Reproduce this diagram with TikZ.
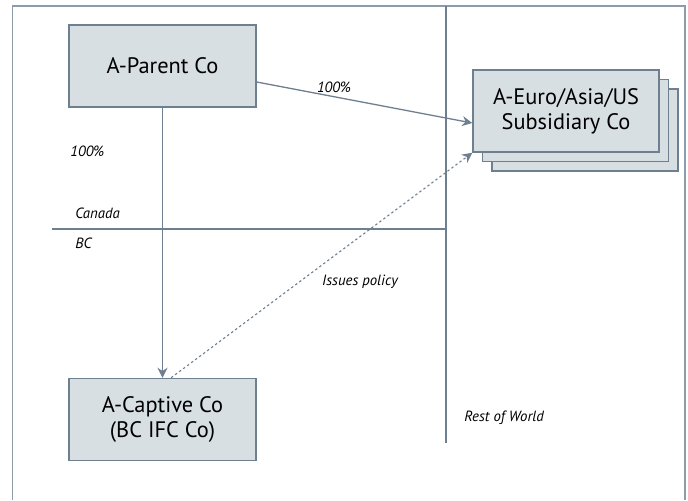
\documentclass[tikz,border=0pt]{standalone}
\usepackage{fontspec}
\setmainfont{PT Sans}
\definecolor{slateline}{RGB}{110,127,144}
\definecolor{frameline}{RGB}{140,156,170}
\definecolor{boxfill}{RGB}{216,223,227}
\usetikzlibrary{arrows.meta,positioning,shadows}

\begin{document}
\begin{tikzpicture}[x=0.5pt,y=-0.5pt,
  every node/.style={font=\fontsize{11.2}{12.5}\selectfont,align=center},
  entity/.style={draw=slateline,line width=0.75pt,fill=boxfill,minimum width=93.5pt,minimum height=41pt,inner sep=0pt},
  link/.style={slateline,line width=0.65pt,-{Stealth[length=5pt,width=5pt,inset=1.6pt]}},
  policy/.style={slateline,line width=0.55pt,dash pattern=on 1.2pt off 1.3pt,-{Stealth[length=5pt,width=5pt,inset=1.6pt]}},
  tag/.style={font=\fontsize{7.4}{8.5}\selectfont\itshape,inner sep=0pt}]
\useasboundingbox (0,0) rectangle (688,500);
% frame and jurisdiction lines
\draw[frameline,line width=0.9pt] (12.5,500) -- (12.5,6) -- (685,6) -- (685,500);
\draw[slateline,line width=0.7pt] (446,6) -- (446,443);
\draw[slateline,line width=0.7pt] (52,229) -- (446,229);
% companies
\node[entity] (parent) at (162.5,66) {A-Parent Co};
\node[entity] (captive) at (162.5,419.5) {A-Captive Co\\(BC IFC Co)};
\node[entity,minimum width=93pt,double copy shadow={shadow xshift=4.7pt,shadow yshift=-4.7pt}] (sub) at (566,111) {A-Euro/Asia/US\\Subsidiary Co};
% labels
\node[tag,anchor=west] (pctdown) at (70,151) {100\%};
\node[tag,anchor=west] (canada) at (75,213) {Canada};
\node[tag,anchor=west] (bc) at (75,243) {BC};
\node[tag] (pctsub) at (334,87) {100\%};
\node[tag] (issues) at (360,282) {Issues policy};
\node[tag,anchor=west] (world) at (464,418) {Rest of World};
% ownership and policy
\draw[link] ([yshift=-8pt]parent.east) -- ([yshift=-6pt]sub.west);
\draw[link] (parent.south) -- (captive.north);
\draw[policy] ([xshift=4.3pt]captive.north) -- (sub.south west);
\end{tikzpicture}
\end{document}
